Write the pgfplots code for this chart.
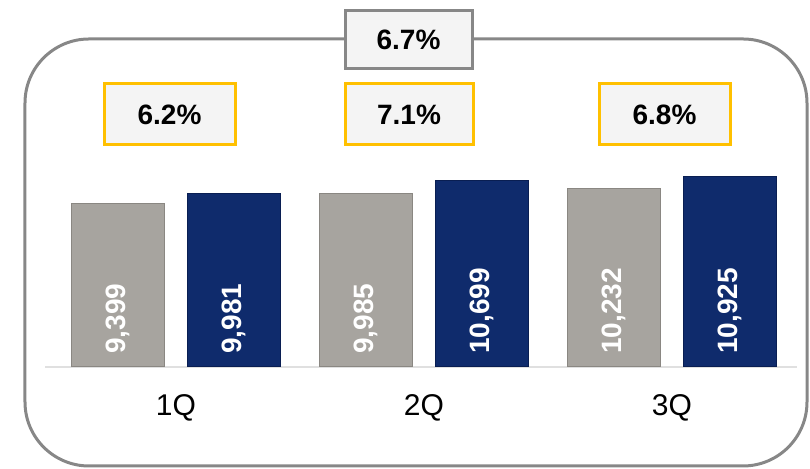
\documentclass[border=0pt]{standalone}
\usepackage{fontspec}
\setmainfont{Liberation Sans}
\usepackage{pgfplots}
\usepackage{pgfplotstable}
\pgfplotsset{compat=1.18}

\definecolor{barGray}{HTML}{A7A49F}
\definecolor{barGrayDk}{HTML}{8A8782}
\definecolor{barNavy}{HTML}{0F2B6C}
\definecolor{barNavyDk}{HTML}{091E52}
\definecolor{frameGray}{HTML}{878787}
\definecolor{boxFill}{HTML}{F4F4F4}
\definecolor{boxGold}{HTML}{FFC000}

% quarterly values, base column only anchors the value labels
\pgfplotstableread{
x gray navy base
0 9399 9981 0
1 9985 10699 0
2 10232 10925 0
}\sales

\tikzset{pct/.style={font=\fontsize{14}{16}\selectfont\bfseries}}

\begin{document}
\begin{tikzpicture}
% pixel grid of the reference: 1px = 0.5pt, y downwards, origin at axis corner
\begin{scope}[x=0.5pt, y=-0.5pt, shift={(-22.5pt,183.5pt)}]
  \useasboundingbox (0,0) rectangle (810,469);
  \draw[frameGray, line width=1.5pt, rounded corners=32pt] (25,39) rectangle (807,466);
  \draw[frameGray, line width=1.5pt, fill=boxFill] (345,11) rectangle (472,69);
  \node[pct] at (408.5,40) {6.7\%};
  \draw[boxGold, line width=1.5pt, fill=boxFill] (104,84) rectangle (235,145);
  \node[pct] at (169.5,114.5) {6.2\%};
  \draw[boxGold, line width=1.5pt, fill=boxFill] (345,84) rectangle (473,145);
  \node[pct] at (409,114.5) {7.1\%};
  \draw[boxGold, line width=1.5pt, fill=boxFill] (599,84) rectangle (730,145);
  \node[pct] at (664.5,114.5) {6.8\%};
\end{scope}

\begin{axis}[
  at={(0,0)}, anchor=south west,
  scale only axis, width=376pt, height=164.5pt,
  xmin=-0.528, xmax=2.504, ymin=0, ymax=18901,
  enlargelimits=false, clip=false,
  ybar, bar width=46.5pt,
  axis x line*=bottom, axis y line=none,
  axis line style={draw=black!12, line width=1pt, -},
  major tick length=0pt,
  xtick={0,1,2}, xticklabels={1Q,2Q,3Q},
  xticklabel style={font=\fontsize{15}{17}\selectfont, anchor=center, yshift=-20.5pt},
  ytick=\empty,
  nodes near coords style={font=\fontsize{14}{16}\selectfont\bfseries, white,
    rotate=90, anchor=west, inner xsep=6.5pt, inner ysep=0pt,
    /pgf/number format/1000 sep={,}, /pgf/number format/assume math mode=true},
]
\addplot[bar shift=-29pt, draw=barGrayDk, line width=0.5pt, fill=barGray]
  table[x=x, y=gray] {\sales};
\addplot[bar shift=29pt, draw=barNavyDk, line width=0.5pt, fill=barNavy]
  table[x=x, y=navy] {\sales};
\addplot[bar shift=-29pt, draw=none, fill=none, nodes near coords, point meta=explicit]
  table[x=x, y=base, meta=gray] {\sales};
\addplot[bar shift=29pt, draw=none, fill=none, nodes near coords, point meta=explicit]
  table[x=x, y=base, meta=navy] {\sales};
\end{axis}
\end{tikzpicture}
\end{document}
